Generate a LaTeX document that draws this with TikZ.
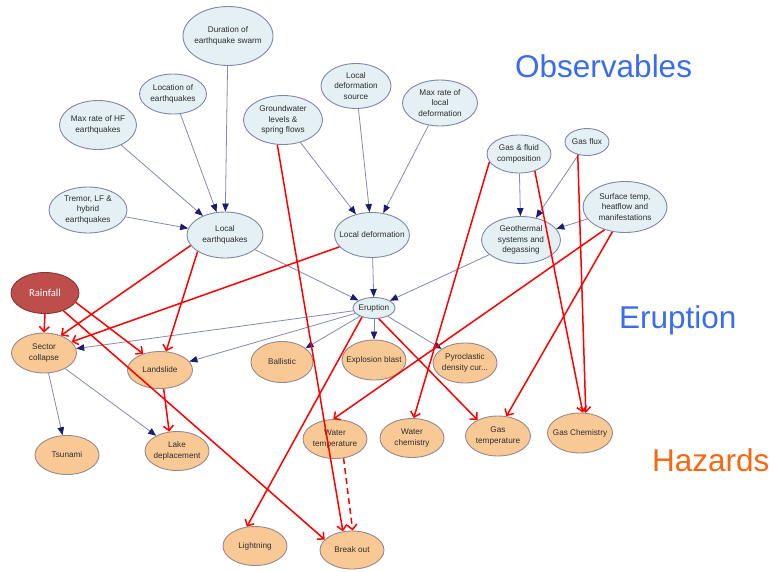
\documentclass[tikz,border=0pt]{standalone}
\usepackage{fontspec}
\setmainfont{Liberation Sans}
\newfontfamily\calfont{Carlito}
\usetikzlibrary{shapes.geometric,arrows.meta}

\definecolor{obsfill}{RGB}{228,240,244}
\definecolor{obsline}{RGB}{128,134,170}
\definecolor{hazfill}{RGB}{249,201,149}
\definecolor{hazline}{RGB}{150,136,142}
\definecolor{rainfill}{RGB}{190,78,76}
\definecolor{rainline}{RGB}{135,52,52}
\definecolor{edgeline}{RGB}{130,137,182}
\definecolor{tipnavy}{RGB}{26,28,112}
\definecolor{titleblue}{RGB}{58,108,240}
\definecolor{titleorange}{RGB}{250,102,16}
\definecolor{nodetext}{RGB}{45,45,50}

\tikzset{
  obs/.style={ellipse,draw=obsline,fill=obsfill,line width=0.9pt,inner sep=0pt},
  haz/.style={ellipse,draw=hazline,fill=hazfill,line width=0.9pt,inner sep=0pt},
  rain/.style={ellipse,draw=rainline,fill=rainfill,line width=0.9pt,inner sep=0pt},
  txt/.style={align=center,text=nodetext,inner sep=0pt,
    font=\fontsize{8.2}{10.4}\selectfont},
  raintxt/.style={text=white,inner sep=0pt,font=\calfont\fontsize{10.6}{12}\selectfont},
  flow/.style={draw=edgeline,line width=0.8pt,
    -{Triangle[length=8pt,width=6.5pt,color=tipnavy]}},
  link/.style={draw=red,line width=1.5pt,
    -{Straight Barb[length=5pt,width=10pt]}},
  title/.style={anchor=base west,inner sep=0pt,
    font=\fontsize{31.5}{34}\selectfont},
}

% ellipse node: style, name, x, y, width, height, text
\newcommand\ellnode[7]{%
  \node[#1,minimum width=#5pt,minimum height=#6pt] (#2) at (#3,#4) {};
  \node[txt] (#2-t) at (#2.center) {#7};}

\begin{document}
\begin{tikzpicture}[x=1pt,y=-1pt]
\useasboundingbox (0,0) rectangle (772,571);

% observables
\ellnode{obs}{dur}{228}{36}{90}{59}{Duration of\\earthquake swarm}
\ellnode{obs}{loc}{173}{94}{67}{40}{Location of\\earthquakes}
\ellnode{obs}{hf}{98}{125}{77}{49}{Max rate of HF\\earthquakes}
\ellnode{obs}{trem}{88}{210}{78}{46}{Tremor, LF \&\\hybrid\\earthquakes}
\ellnode{obs}{leq}{225}{235}{76}{46}{Local\\earthquakes}
\ellnode{obs}{gw}{283}{120}{79}{49}{Groundwater\\levels \&\\spring flows}
\ellnode{obs}{lds}{356}{86}{70}{45}{Local\\deformation\\source}
\ellnode{obs}{mrd}{440}{103}{75}{46}{Max rate of\\local\\deformation}
\ellnode{obs}{ldef}{372}{235}{75}{45}{Local deformation}
\ellnode{obs}{gfc}{519}{154}{64}{38}{Gas \& fluid\\composition}
\ellnode{obs}{gflux}{587}{142}{44}{27}{Gas flux}
\ellnode{obs}{surf}{625}{207}{84}{51}{Surface temp,\\heatflow and\\manifestations}
\ellnode{obs}{geo}{521}{240}{79}{47}{Geothermal\\systems and\\degassing}
\ellnode{obs}{erup}{374}{308}{42}{21}{Eruption}

% hazards
\ellnode{haz}{sc}{44}{353}{65}{40}{Sector\\collapse}
\ellnode{haz}{land}{160}{370}{65}{37}{Landslide}
\ellnode{haz}{ball}{282}{362}{62}{41}{Ballistic}
\ellnode{haz}{blast}{374}{360}{64}{40}{Explosion blast}
\ellnode{haz}{pdc}{465}{363}{64}{40}{Pyroclastic\\density cur...}
\ellnode{haz}{tsu}{67}{455}{64}{39}{Tsunami}
\ellnode{haz}{lake}{177}{451}{64}{39}{Lake\\deplacement}
\ellnode{haz}{wt}{335}{439}{64}{39}{Water\\temperature}
\ellnode{haz}{wc}{412}{438}{64}{39}{Water\\chemistry}
\ellnode{haz}{gt}{498}{436}{65}{40}{Gas\\temperature}
\ellnode{haz}{gc}{580}{433}{65}{40}{Gas Chemistry}
\ellnode{haz}{light}{255}{546}{64}{39}{Lightning}
\ellnode{haz}{bo}{352}{550}{64}{38}{Break out}

% rainfall
\node[rain,minimum width=68pt,minimum height=41pt] (rain) at (45,293) {};
\node[raintxt] (rain-t) at (rain.center) {Rainfall};

% section titles
\node[title,text=titleblue] (tobs) at (515,77) {Observables};
\node[title,text=titleblue] (terup) at (619,328) {Eruption};
\node[title,text=titleorange] (thaz) at (652,471) {Hazards};

% network edges
\draw[flow] (hf) -- (leq);
\draw[flow] (loc) -- (leq);
\draw[flow] (dur) -- (leq);
\draw[flow] (trem) -- (leq);
\draw[flow] (gw) -- (ldef);
\draw[flow] (lds) -- (ldef);
\draw[flow] (mrd) -- (ldef);
\draw[flow] (leq) -- (erup);
\draw[flow] (ldef) -- (erup);
\draw[flow] (geo) -- (erup);
\draw[flow] (gfc) -- (geo);
\draw[flow] (gflux) -- (geo);
\draw[flow] (surf) -- (geo);
\draw[flow] (erup) -- (sc);
\draw[flow] (erup) -- (land);
\draw[flow] (erup) -- (ball);
\draw[flow] (erup) -- (blast);
\draw[flow] (erup) -- (pdc);
\draw[flow] (sc) -- (tsu);
\draw[flow] (sc) -- (lake);

% added links
\draw[link] (leq.197) -- (sc.46);
\draw[link] (leq.211) -- (land.72);
\draw[link] (ldef.200) -- (sc.22);
\draw[link] (gw.257) -- (bo.116);
\draw[link] (rain.south) -- (sc.north);
\draw[link] (rain.343) -- (land.136);
\draw[link] (rain.316) -- (bo.159);
\draw[link] (land.281) -- (lake.112);
\draw[link] (erup.217) -- (light.113);
\draw[link] (erup.294) -- (gt.142);
\draw[link,dashed,dash pattern=on 6pt off 4pt] (wt.294) -- (bo.88);
\draw[link] (gfc.195) -- (wc.85);
\draw[link] (gfc.313) -- (gc.82);
\draw[link] (gflux.234) -- (gc.74);
\draw[link] (surf.228) -- (wt.95);
\draw[link] (surf.243) -- (gt.67);
\end{tikzpicture}
\end{document}
